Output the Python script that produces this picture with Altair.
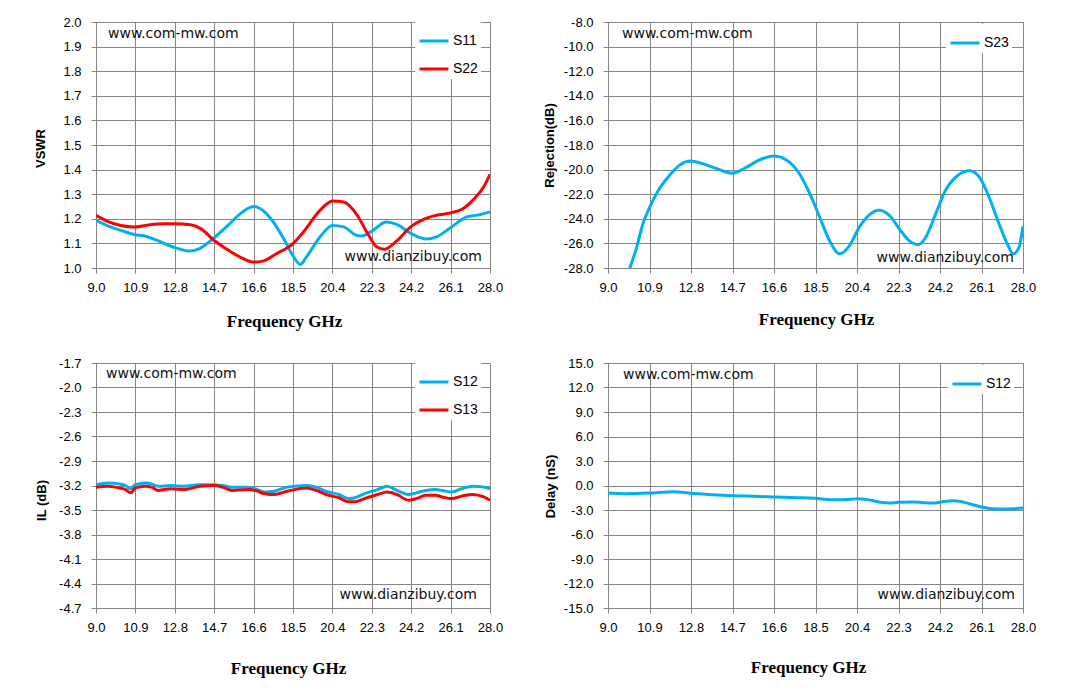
"""Four S-parameter panels: VSWR, rejection, insertion loss and group delay."""

import altair as alt
import pandas as pd

# shared frequency ticks (GHz)
X_TICKS = [9.0, 10.9, 12.8, 14.7, 16.6, 18.5, 20.4, 22.3, 24.2, 26.1, 28.0]

# --- VSWR panel
VSWR_TICKS = [1.0, 1.1, 1.2, 1.3, 1.4, 1.5, 1.6, 1.7, 1.8, 1.9, 2.0]
F_S11 = [9.0, 9.7, 10.2, 10.9, 11.3, 11.95, 12.8, 13.5, 14.0, 14.7, 15.45, 15.95,
         16.6, 17.05, 17.55, 18.05, 18.5, 18.85, 19.15, 19.8, 20.4, 20.95, 21.5,
         21.8, 22.3, 23.0, 23.5, 24.2, 24.95, 25.4, 26.1, 26.85, 27.5, 28.0]
S11 = [1.194, 1.167, 1.153, 1.135, 1.131, 1.112, 1.083, 1.069, 1.079, 1.123, 1.18, 1.22,
       1.25, 1.234, 1.187, 1.119, 1.05, 1.014, 1.045, 1.126, 1.173, 1.167, 1.135,
       1.13, 1.15, 1.187, 1.177, 1.14, 1.118, 1.126, 1.164, 1.207, 1.217, 1.228]
F_S22 = [9.0, 9.55, 10.2, 10.9, 11.6, 12.25, 12.8, 13.55, 14.05, 14.7, 15.45, 16.1,
         16.6, 17.05, 17.7, 18.5, 19.0, 19.8, 20.4, 20.95, 21.6, 22.1, 22.55, 22.9,
         23.5, 24.2, 24.8, 25.4, 26.1, 26.7, 27.2, 27.7, 28.0]
S22 = [1.214, 1.19, 1.173, 1.167, 1.176, 1.18, 1.18, 1.176, 1.16, 1.112, 1.069, 1.038,
       1.024, 1.028, 1.058, 1.099, 1.146, 1.234, 1.272, 1.268, 1.214, 1.14, 1.085, 1.076,
       1.11, 1.169, 1.198, 1.214, 1.224, 1.241, 1.278, 1.33, 1.381]

# --- rejection panel
REJ_TICKS = [-28.0, -26.0, -24.0, -22.0, -20.0, -18.0, -16.0, -14.0, -12.0, -10.0, -8.0]
F_S23 = [10.0, 10.3, 10.6, 10.9, 11.3, 11.8, 12.3, 12.8, 13.3, 13.95, 14.7, 15.3,
         15.95, 16.6, 17.15, 17.75, 18.2, 18.7, 19.15, 19.6, 20.05, 20.5, 20.95, 21.4,
         21.9, 22.35, 22.8, 23.2, 23.55, 24.0, 24.45, 25.0, 25.55, 26.0, 26.45, 26.9,
         27.3, 27.55, 27.8, 28.0]
S23 = [-28.0, -26.4, -24.4, -23.1, -21.7, -20.5, -19.6, -19.3, -19.5, -19.9, -20.3, -19.85,
       -19.2, -18.9, -19.2, -20.3, -21.8, -23.9, -25.8, -26.85, -26.2, -24.7, -23.7, -23.3,
       -23.75, -24.85, -25.8, -26.1, -25.5, -23.6, -21.7, -20.5, -20.1, -20.6, -22.25, -24.4,
       -26.1, -26.85, -26.4, -24.6]

# --- insertion loss panel
IL_TICKS = [-4.7, -4.4, -4.1, -3.8, -3.5, -3.2, -2.9, -2.6, -2.3, -2.0, -1.7]
F_IL = [9.0, 9.58, 10.12, 10.43, 10.67, 10.9, 11.37, 11.68, 11.99, 12.61, 13.24, 14.01,
        14.71, 15.1, 15.57, 16.35, 16.66, 17.13, 17.6, 18.22, 19.15, 19.62, 20.09, 20.71,
        21.18, 21.49, 21.95, 22.58, 23.04, 23.51, 24.06, 24.45, 24.91, 25.38, 25.69, 26.16,
        26.63, 27.17, 27.7, 28.0]
S12 = [-3.19, -3.17, -3.18, -3.2, -3.24, -3.19, -3.17, -3.18, -3.21, -3.2, -3.21, -3.19,
       -3.19, -3.2, -3.22, -3.22, -3.24, -3.28, -3.27, -3.22, -3.2, -3.22, -3.27, -3.31,
       -3.36, -3.35, -3.3, -3.25, -3.21, -3.26, -3.31, -3.29, -3.26, -3.25, -3.26, -3.28,
       -3.24, -3.21, -3.22, -3.24]
S13 = [-3.22, -3.21, -3.23, -3.25, -3.29, -3.23, -3.21, -3.22, -3.26, -3.24, -3.25, -3.21,
       -3.2, -3.22, -3.26, -3.25, -3.26, -3.3, -3.31, -3.27, -3.23, -3.26, -3.31, -3.35,
       -3.4, -3.4, -3.36, -3.31, -3.28, -3.31, -3.38, -3.36, -3.32, -3.32, -3.34, -3.36,
       -3.33, -3.31, -3.34, -3.38]

# --- group delay panel
DLY_TICKS = [-15.0, -12.0, -9.0, -6.0, -3.0, 0.0, 3.0, 6.0, 9.0, 12.0, 15.0]
F_DLY = [9.0, 9.8, 10.9, 12.0, 12.8, 13.8, 14.7, 15.7, 16.6, 17.6, 18.5, 19.2, 19.8,
         20.4, 20.9, 21.4, 21.9, 22.3, 23.0, 23.45, 23.9, 24.25, 24.8, 25.2, 25.65, 26.1,
         26.6, 27.1, 27.6, 28.0]
DLY = [-0.92, -1.0, -0.92, -0.76, -0.96, -1.12, -1.24, -1.33, -1.41, -1.49, -1.57, -1.73,
       -1.73, -1.61, -1.73, -2.02, -2.14, -2.06, -2.02, -2.1, -2.14, -2.02, -1.86, -1.98,
       -2.31, -2.63, -2.84, -2.88, -2.84, -2.76]

BLUE = "#00B0F0"
RED = "#FF0000"
GRID = "#868686"
# d3 formats negatives with a unicode minus; the original uses a plain hyphen
LABELS = "replace(format(datum.value, '.1f'), '\u2212', '-')"


def panel(series, y_domain, y_ticks, y_title, width, height, lay):
    """One bordered plot with its own legend and the two watermark texts."""
    rows = [{"freq": f, "value": v, "series": name}
            for name, freqs, vals, _ in series for f, v in zip(freqs, vals)]
    names = [s[0] for s in series]
    colors = [s[3] for s in series]

    lines = alt.Chart(pd.DataFrame(rows)).mark_line(
        interpolate="monotone", strokeWidth=3, clip=True
    ).encode(
        x=alt.X("freq:Q", scale=alt.Scale(domain=[9, 28], nice=False, zero=False),
                axis=alt.Axis(values=X_TICKS, labelExpr=LABELS, title="Frequency GHz",
                              titleX=lay["xt"][0], titleY=lay["xt"][1])),
        y=alt.Y("value:Q", scale=alt.Scale(domain=y_domain, nice=False, zero=False),
                axis=alt.Axis(values=y_ticks, labelExpr=LABELS, title=y_title,
                              titleX=lay["yt"][0], titleY=lay["yt"][1])),
        color=alt.Color("series:N", scale=alt.Scale(domain=names, range=colors),
                        legend=alt.Legend(title=None, orient="none",
                                          legendX=lay["leg"][0], legendY=lay["leg"][1],
                                          symbolType="stroke", symbolSize=841,
                                          symbolStrokeWidth=3, labelFont="Liberation Sans",
                                          labelFontSize=14, labelColor="black",
                                          labelOffset=3, fillColor="white", padding=3,
                                          rowPadding=5)),
    )

    top_mark = alt.Chart(pd.DataFrame({"t": ["www.com-mw.com"]})).mark_text(
        align="left", baseline="middle", font="DejaVu Sans", fontSize=14, color="#111111"
    ).encode(x=alt.value(lay["wm1"][0]), y=alt.value(lay["wm1"][1]), text="t:N")

    low_mark = alt.Chart(pd.DataFrame({"t": ["www.dianzibuy.com"]})).mark_text(
        align="right", baseline="middle", font="DejaVu Sans", fontSize=14, color="#111111"
    ).encode(x=alt.value(width - lay["wm2"][0]), y=alt.value(height - lay["wm2"][1]),
             text="t:N")

    return alt.layer(lines, top_mark, low_mark).properties(width=width, height=height)


vswr = panel([("S11", F_S11, S11, BLUE), ("S22", F_S22, S22, RED)],
             [1.0, 2.0], VSWR_TICKS, "VSWR", 394, 246,
             {"xt": (188, 53), "yt": (-56, 126), "leg": (319, 0),
              "wm1": (12, 12), "wm2": (8, 11)})
rej = panel([("S23", F_S23, S23, BLUE)],
            [-28.0, -8.0], REJ_TICKS, "Rejection(dB)", 415, 246,
            {"xt": (208, 51), "yt": (-59, 123), "leg": (338, 2),
             "wm1": (14, 12), "wm2": (9, 10)})
il = panel([("S12", F_IL, S12, BLUE), ("S13", F_IL, S13, RED)],
           [-4.7, -1.7], IL_TICKS, "IL (dB)", 394, 245,
           {"xt": (192, 60), "yt": (-55, 137), "leg": (319, 0),
            "wm1": (10, 11), "wm2": (13, 13)})
dly = panel([("S12", F_DLY, DLY, BLUE)],
            [-15.0, 15.0], DLY_TICKS, "Delay (nS)", 415, 245,
            {"xt": (200, 59), "yt": (-58, 123), "leg": (340, 2),
             "wm1": (15, 12), "wm2": (8, 13)})

chart = alt.concat(
    vswr, rej, il, dly, columns=2, spacing={"row": 95, "column": 118}, bounds="flush"
).resolve_scale(
    color="independent", x="independent", y="independent"
).resolve_legend(
    color="independent"
).configure_axis(
    gridColor=GRID, gridWidth=1, domainColor=GRID, tickColor=GRID, tickSize=5,
    labelFont="Liberation Sans", labelFontSize=13, labelColor="black",
    labelFlush=False, labelOverlap=False,
    titleColor="black", titleAlign="center", titleBaseline="middle"
).configure_axisX(
    labelPadding=8, titleFont="Liberation Serif", titleFontSize=17, titleFontWeight="bold"
).configure_axisY(
    labelPadding=10, titleFont="Liberation Sans", titleFontSize=13, titleFontWeight="bold"
).configure_view(
    stroke=GRID
).properties(
    padding={"left": 25, "top": 7, "right": 5, "bottom": 5},
    background="white"
)

chart.save("out.html", embed_options={"renderer": "svg", "actions": False})
